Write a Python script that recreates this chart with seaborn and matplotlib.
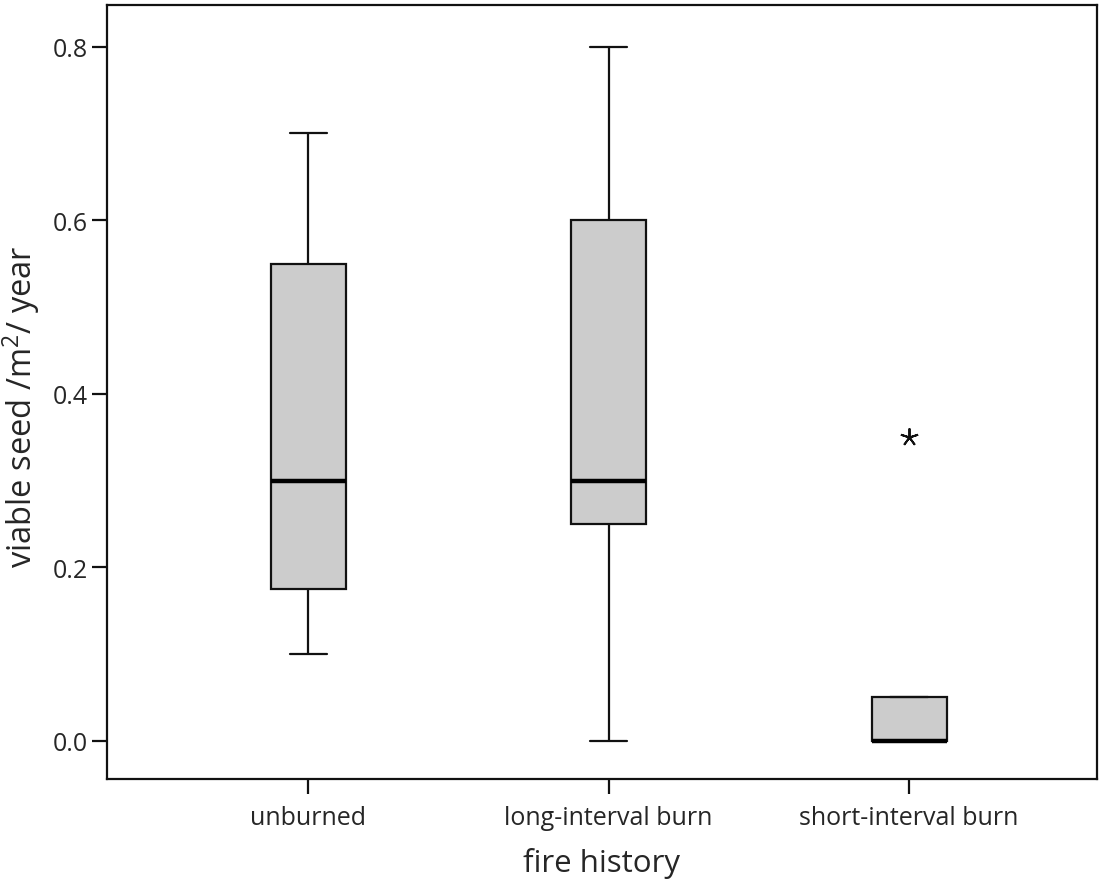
import pandas as pd
import matplotlib
matplotlib.use("Agg")
import matplotlib.pyplot as plt
import seaborn as sns

# Five-number summaries (min, q1, median, q3, max/outlier)
groups = ["unburned", "long-interval burn", "short-interval burn"]
unburned = [0.10, 0.175, 0.30, 0.55, 0.70]
long_interval = [0.00, 0.25, 0.30, 0.60, 0.80]
short_interval = [0.00, 0.00, 0.00, 0.05, 0.35]
y_ticks = [0.0, 0.2, 0.4, 0.6, 0.8]

rows = []
for name, vals in zip(groups, [unburned, long_interval, short_interval]):
    for v in vals:
        rows.append({"fire history": name, "seed": v})
df = pd.DataFrame(rows)

sns.set_style("white")
plt.rcParams['font.family'] = ['Open Sans', 'DejaVu Sans']
plt.rcParams['mathtext.fontset'] = 'custom'
plt.rcParams['mathtext.rm'] = 'Open Sans'
plt.rcParams['mathtext.it'] = 'Open Sans'

fig = plt.figure(figsize=(10.99, 8.87), dpi=100)
ax = fig.add_axes([0.0974, 0.1206, 0.9006, 0.8726])

sns.boxplot(data=df, x="fire history", y="seed", order=groups, ax=ax,
            width=0.25, color="#cccccc", saturation=1, linecolor="#111111",
            linewidth=1.6, whis=1.5,
            medianprops=dict(linewidth=3.2, color="black"),
            flierprops=dict(marker=(5, 2, 0), markersize=13,
                            markerfacecolor="black", markeredgecolor="#111111",
                            markeredgewidth=1.4))

ax.set_xlim(-0.67, 2.625)
ax.set_ylim(-0.044, 0.848)
ax.set_yticks(y_ticks)
ax.set_yticklabels([f"{t:.1f}" for t in y_ticks])

for s in ax.spines.values():
    s.set_visible(True)
    s.set_color("#111111")
    s.set_linewidth(1.6)

ax.tick_params(axis="both", direction="out", length=11, width=1.6,
               color="#111111", labelsize=18, left=True, bottom=True)
ax.tick_params(axis="y", pad=3)
ax.tick_params(axis="x", pad=8)

ax.set_xlabel("fire history", fontsize=22.5, labelpad=12)
ax.set_ylabel("viable seed /m$^2$/ year", fontsize=23.5)
ax.yaxis.set_label_coords(-0.066, 0.482)

fig.savefig("out.png", dpi=100)
